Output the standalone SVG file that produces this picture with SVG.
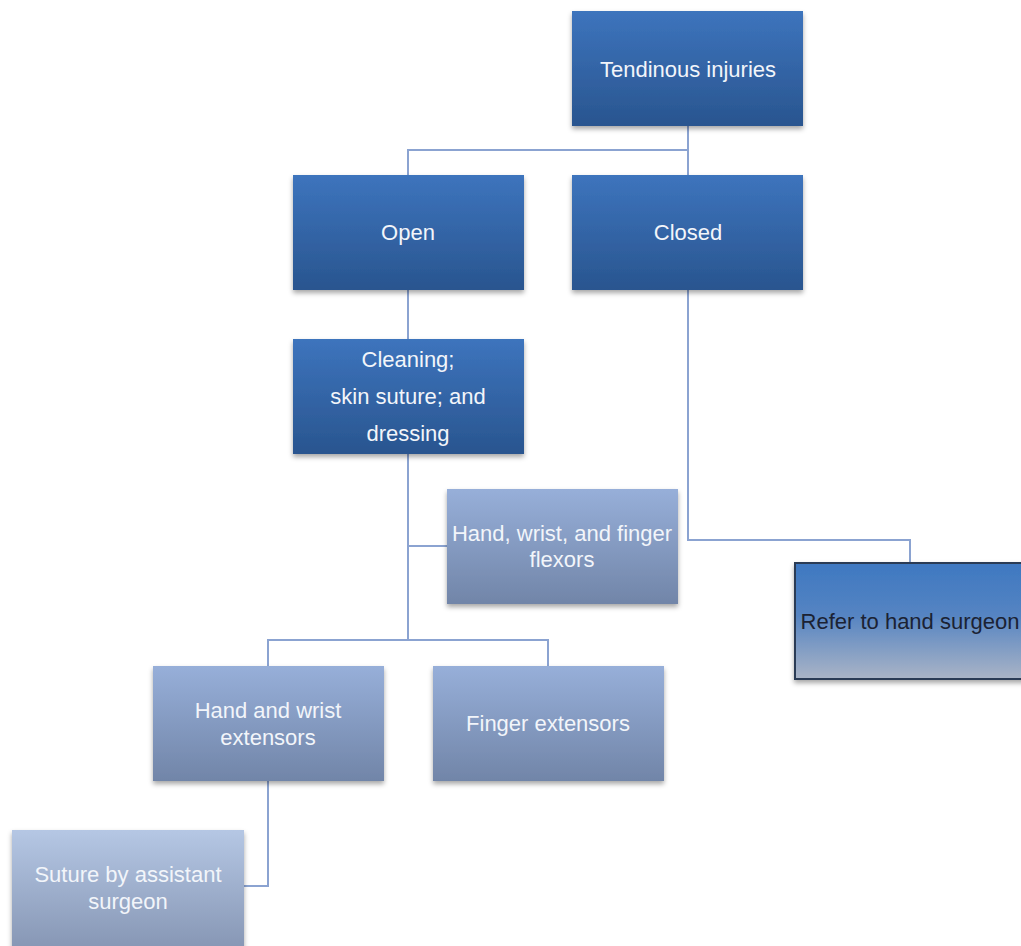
<svg xmlns="http://www.w3.org/2000/svg" width="1021" height="946" viewBox="0 0 1021 946">
<defs>
<linearGradient id="gDark" x1="0" y1="0" x2="0" y2="1">
<stop offset="0" stop-color="#3d74bd"/>
<stop offset="1" stop-color="#29558f"/>
</linearGradient>
<linearGradient id="gLight" x1="0" y1="0" x2="0" y2="1">
<stop offset="0" stop-color="#97afd9"/>
<stop offset="1" stop-color="#7185a8"/>
</linearGradient>
<linearGradient id="gPale" x1="0" y1="0" x2="0" y2="1">
<stop offset="0" stop-color="#b5c7e4"/>
<stop offset="1" stop-color="#8696b4"/>
</linearGradient>
<linearGradient id="gRefer" x1="0" y1="0" x2="0" y2="1">
<stop offset="0" stop-color="#3e78c1"/>
<stop offset="0.45" stop-color="#5584c2"/>
<stop offset="1" stop-color="#aab4c6"/>
</linearGradient>
<filter id="sh" x="-10%" y="-10%" width="125%" height="130%">
<feDropShadow dx="0" dy="3" stdDeviation="2.5" flood-color="#000" flood-opacity="0.35"/>
</filter>
</defs>
<style>
.dark{fill:url(#gDark);filter:url(#sh)}
.light{fill:url(#gLight);filter:url(#sh)}
.pale{fill:url(#gPale);filter:url(#sh)}
.refer{fill:url(#gRefer);stroke:#2c3b55;stroke-width:2;filter:url(#sh)}
.t{font-family:"Liberation Sans",Arial,sans-serif;font-size:22px;fill:#f2f5fa;text-anchor:middle}
.td{font-family:"Liberation Sans",Arial,sans-serif;font-size:22px;fill:#1b2233;text-anchor:middle}
.c{fill:none;stroke:#8ba3d1;stroke-width:2}
</style>
<rect width="1021" height="946" fill="#ffffff"/>
<g id="connectors">
<path class="c" d="M688 126 V150 H408 V175 M688 150 V175"/>
<path class="c" d="M688 290 V540 H910 V563"/>
<path class="c" d="M408 290 V339"/>
<path class="c" d="M408 454 V640 M408 546 H447 M268 666 V640 H548 V666"/>
<path class="c" d="M268 781 V886 H244"/>
</g>
<g id="node-tendinous">
<rect class="dark" x="572" y="11" width="231" height="115"/>
<text class="t" x="688" y="77">Tendinous injuries</text>
</g>
<g id="node-open">
<rect class="dark" x="293" y="175" width="231" height="115"/>
<text class="t" x="408" y="240">Open</text>
</g>
<g id="node-closed">
<rect class="dark" x="572" y="175" width="231" height="115"/>
<text class="t" x="688" y="240">Closed</text>
</g>
<g id="node-cleaning">
<rect class="dark" x="293" y="339" width="231" height="115"/>
<text class="t" x="408" y="367">Cleaning;</text>
<text class="t" x="408" y="404">skin suture; and</text>
<text class="t" x="408" y="441">dressing</text>
</g>
<g id="node-flexors">
<rect class="light" x="447" y="489" width="231" height="115"/>
<text class="t" x="562" y="541">Hand, wrist, and finger</text>
<text class="t" x="562" y="567">flexors</text>
</g>
<g id="node-refer">
<rect class="refer" x="795" y="563" width="232" height="116"/>
<text class="td" x="910" y="629">Refer to hand surgeon</text>
</g>
<g id="node-handwrist">
<rect class="light" x="153" y="666" width="231" height="115"/>
<text class="t" x="268" y="718">Hand and wrist</text>
<text class="t" x="268" y="745">extensors</text>
</g>
<g id="node-finger">
<rect class="light" x="433" y="666" width="231" height="115"/>
<text class="t" x="548" y="731">Finger extensors</text>
</g>
<g id="node-suture">
<rect class="pale" x="12" y="830" width="232" height="120"/>
<text class="t" x="128" y="882">Suture by assistant</text>
<text class="t" x="128" y="909">surgeon</text>
</g>
</svg>
